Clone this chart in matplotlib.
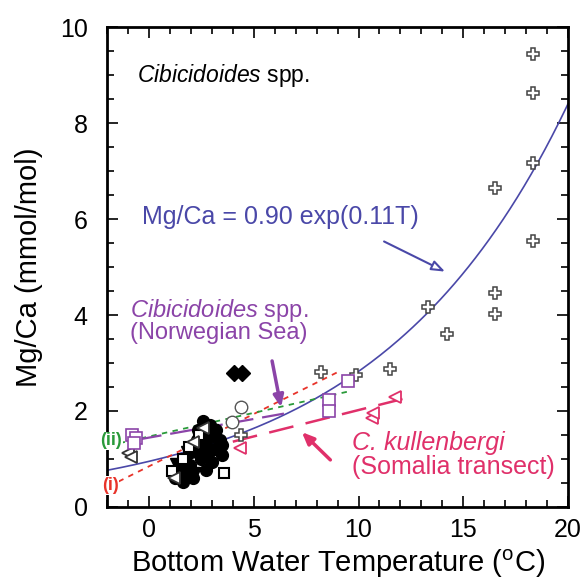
#import necessary libraries
import numpy as np
import matplotlib.pyplot as plt
from matplotlib.ticker import MultipleLocator

plt.rcParams['font.family'] = ['Liberation Sans', 'DejaVu Sans']
plt.rcParams['mathtext.fontset'] = 'custom'
plt.rcParams['mathtext.rm'] = 'Liberation Sans'
plt.rcParams['mathtext.it'] = 'Liberation Sans:italic'

#open crosses (Cibicidoides spp., warm sites)
cross_T = [18.35, 18.35, 18.35, 18.35, 16.5, 16.5, 16.5, 13.3, 14.2, 11.5, 9.9, 8.2, 4.4]
cross_mg = [9.45, 8.63, 7.17, 5.55, 6.65, 4.45, 4.03, 4.16, 3.6, 2.87, 2.75, 2.82, 1.5]
#filled black circles (cold cluster)
circ_T = [2.6, 2.9, 2.35, 3.15, 3.4, 2.7, 3.15, 3.5, 2.45, 1.95, 1.7, 1.5, 1.25, 1.6, 2.1, 2.7,
          3.0, 2.2, 2.9, 3.3, 2.5, 3.2, 1.9, 2.3, 2.8, 1.4, 3.5, 2.0]
circ_mg = [1.8, 1.7, 1.6, 1.5, 1.4, 1.3, 1.2, 1.08, 1.08, 0.87, 0.98, 0.77, 0.6, 0.52, 0.6, 0.77,
           0.94, 1.25, 1.45, 1.25, 1.0, 1.6, 0.7, 1.4, 1.1, 0.65, 1.3, 1.15]
#filled black triangles
tri_T = [1.3, 1.8, 2.5, 3.0, 2.2, 1.6]
tri_mg = [0.9, 1.15, 1.45, 1.6, 0.7, 0.55]
#open squares / triangles in the cluster
osq_T = [1.1, 1.9, 2.4, 3.6, 1.6]
osq_mg = [0.75, 1.25, 1.5, 0.7, 1.0]
otri_T = [-1.0, -0.85, 1.2, 2.1, 2.6]
otri_mg = [1.12, 1.05, 0.6, 1.35, 1.65]
#open circles
ocirc_T = [4.4, 3.95]
ocirc_mg = [2.09, 1.78]
#filled diamonds
dia_T = [4.05, 4.45]
dia_mg = [2.8, 2.8]
#Norwegian Sea (purple squares)
nor_T = [-0.8, -0.6, -0.7, 8.6, 8.6, 9.5]
nor_mg = [1.5, 1.43, 1.33, 2.23, 2.0, 2.63]
#C. kullenbergi (pink triangles)
kul_T = [4.35, 10.65, 10.7, 11.75]
kul_mg = [1.22, 1.85, 1.95, 2.3]

#fit curve, constants
fit_a = 0.95
fit_b = 0.109
#regression lines (end points)
line_i_T = [-1.45, 9.05]
line_i_mg = [0.53, 2.82]
line_ii_T = [-1.4, 9.45]
line_ii_mg = [1.33, 2.4]
nor_line_T = [-0.45, 6.5]
nor_line_mg = [1.41, 1.95]
kul_line_T = [4.0, 12.1]
kul_line_mg = [1.36, 2.25]

blue = '#4a48a8'
red = '#e8332a'
green = '#2a9a3a'
purple = '#8b44a8'
pink = '#e0306a'

fig = plt.figure(figsize=(5.82, 5.80), dpi=100)
ax = fig.add_axes([0.184, 0.126, 0.792, 0.827])

#fit curve
T = np.linspace(-2, 20, 200)
ax.plot(T, fit_a*np.exp(fit_b*T), color=blue, linewidth=1.2, zorder=2)

#regression lines
ax.plot(line_i_T, line_i_mg, color=red, linestyle=(0, (3, 3)), linewidth=1.3, zorder=3)
ax.plot(line_ii_T, line_ii_mg, color=green, linestyle=(0, (3, 3)), linewidth=1.3, zorder=3)
ax.plot(nor_line_T, nor_line_mg, color=purple, linestyle=(0, (10, 4)), linewidth=1.6, zorder=3)
ax.plot(kul_line_T, kul_line_mg, color=pink, linestyle=(0, (10, 5)), linewidth=1.8, zorder=3)

#data points
ax.plot(cross_T, cross_mg, 'P', markersize=9, markerfacecolor='white', markeredgecolor='#444444', markeredgewidth=1.1, linestyle='none', zorder=4)
ax.plot(osq_T, osq_mg, 's', markersize=7, markerfacecolor='white', markeredgecolor='black', markeredgewidth=1.5, linestyle='none', zorder=6)
ax.plot(otri_T, otri_mg, '<', markersize=8, markerfacecolor='white', markeredgecolor='#333333', markeredgewidth=1.3, linestyle='none', zorder=6)
ax.plot(circ_T, circ_mg, 'o', markersize=8.5, color='black', linestyle='none', zorder=5)
ax.plot(tri_T, tri_mg, 'v', markersize=8.5, color='black', linestyle='none', zorder=5)
ax.plot(ocirc_T, ocirc_mg, 'o', markersize=9, markerfacecolor='white', markeredgecolor='#555555', markeredgewidth=1, linestyle='none', zorder=4)
ax.plot(dia_T, dia_mg, 'D', markersize=8, color='black', linestyle='none', zorder=5)
ax.plot(nor_T, nor_mg, 's', markersize=8, markerfacecolor='white', markeredgecolor=purple, markeredgewidth=1.2, linestyle='none', zorder=6)
ax.plot(kul_T, kul_mg, '<', markersize=9, markerfacecolor='white', markeredgecolor=pink, markeredgewidth=1.3, linestyle='none', zorder=6)

#labels inside the plot
ax.text(-0.55, 9.0, r'$\it{Cibicidoides}$ spp.', fontsize=16.5, color='black', va='center')
ax.text(6.25, 6.05, 'Mg/Ca = 0.90 exp(0.11T)', fontsize=18, color=blue, ha='center', va='center')
ax.annotate('', xy=(14.25, 4.88), xytext=(11.1, 5.56),
            arrowprops=dict(arrowstyle='-|>,head_length=0.8,head_width=0.3', color=blue, lw=1.5, fc='white'))
ax.text(-0.9, 4.1, r'$\it{Cibicidoides}$ spp.', fontsize=17, color=purple, ha='left', va='center')
ax.text(-0.9, 3.62, '(Norwegian Sea)', fontsize=17, color=purple, ha='left', va='center')
ax.annotate('', xy=(6.33, 2.02), xytext=(5.85, 3.1),
            arrowprops=dict(arrowstyle='-|>,head_length=0.7,head_width=0.3', color=purple, lw=2.5))
ax.text(9.7, 1.33, 'C. kullenbergi', fontsize=18, style='italic', color=pink, ha='left', va='center')
ax.text(9.7, 0.83, '(Somalia transect)', fontsize=18, color=pink, ha='left', va='center')
ax.annotate('', xy=(7.2, 1.6), xytext=(8.75, 0.94),
            arrowprops=dict(arrowstyle='-|>,head_length=0.7,head_width=0.3', color=pink, lw=2.5))
ax.text(-1.8, 1.38, '(ii)', fontsize=13, color=green, fontweight='bold', ha='center', va='center', clip_on=False, zorder=7,
        bbox=dict(facecolor='white', edgecolor='none', pad=0.5))
ax.text(-1.85, 0.45, '(i)', fontsize=13, color=red, fontweight='bold', ha='center', va='center', clip_on=False, zorder=7,
        bbox=dict(facecolor='white', edgecolor='none', pad=0.5))

#axes settings
ax.set_xlim(-2, 20)
ax.set_ylim(0, 10)
ax.xaxis.set_major_locator(MultipleLocator(5))
ax.xaxis.set_minor_locator(MultipleLocator(1))
ax.yaxis.set_major_locator(MultipleLocator(2))
ax.yaxis.set_minor_locator(MultipleLocator(0.5))
ax.tick_params(which='both', direction='in', top=True, right=True, labelsize=18, width=1.2)
ax.tick_params(which='major', length=8, pad=8)
ax.tick_params(axis='y', which='major', pad=14)
ax.tick_params(which='minor', length=5)
for s in ax.spines.values():
    s.set_linewidth(2)
ax.set_xlabel(r'Bottom Water Temperature ($^{\rm o}$C)', fontsize=21, labelpad=4)
ax.set_ylabel('Mg/Ca (mmol/mol)', fontsize=21, labelpad=12)

fig.savefig('out.png', dpi=100)
